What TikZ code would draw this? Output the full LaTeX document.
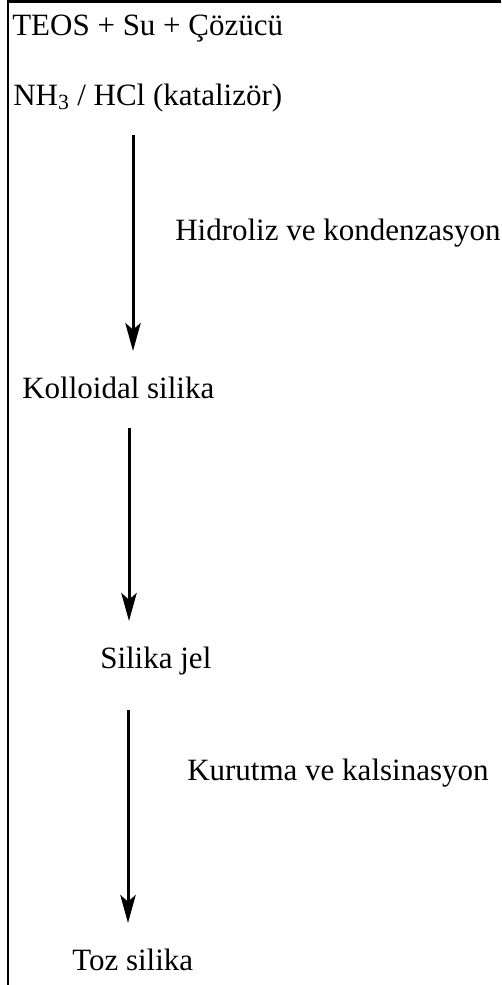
\documentclass[tikz,border=0pt]{standalone}
\usepackage{fontspec}
\setmainfont{Liberation Serif}
\usetikzlibrary{arrows.meta}
\begin{document}
\begin{tikzpicture}[x=0.75pt,y=-0.75pt,
  lbl/.style={anchor=base west,inner sep=0pt,font=\fontsize{23.25}{28}\selectfont},
  flow/.style={line width=2.25pt,-{Stealth[length=21pt,width=11.5pt,inset=5pt]}},
  frame/.style={line width=1.6pt}]
  \useasboundingbox (0,0) rectangle (501,985);
  % open frame: top and left edges only
  \coordinate (tl) at (8,1.5);
  \coordinate (tr) at (501,1.5);
  \coordinate (bl) at (8,985);
  \draw[frame] (tr) -- (tl) -- (bl);
  % texts
  \node[lbl] (teos) at (12,35) {TEOS + Su + Çözücü};
  \node[lbl] (kat)  at (13,105) {NH\textsubscript{3} / HCl (katalizör)};
  \node[lbl] (hid)  at (175,240) {Hidroliz ve kondenzasyon};
  \node[lbl] (kol)  at (22,398) {Kolloidal silika};
  \node[lbl] (jel)  at (100,668) {Silika jel};
  \node[lbl] (kur)  at (187,780) {Kurutma ve kalsinasyon};
  \node[lbl] (toz)  at (72,970) {Toz silika};
  % arrows
  \coordinate (a1s) at (133,135);
  \coordinate (a1e) at (133,351);
  \coordinate (a2s) at (129,428);
  \coordinate (a2e) at (129,621);
  \coordinate (a3s) at (128,710);
  \coordinate (a3e) at (128,923);
  \draw[flow] (a1s) -- (a1e);
  \draw[flow] (a2s) -- (a2e);
  \draw[flow] (a3s) -- (a3e);
\end{tikzpicture}
\end{document}
